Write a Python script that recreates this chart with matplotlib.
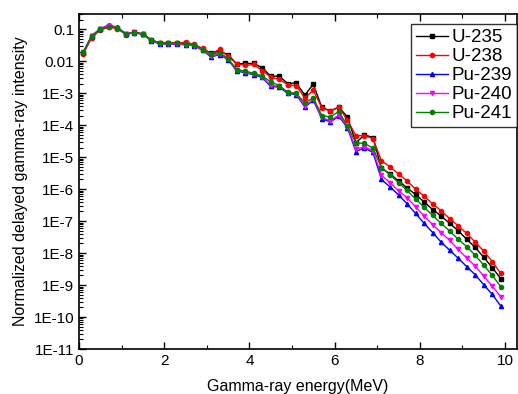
import numpy as np
import matplotlib
matplotlib.use("Agg")
import matplotlib.pyplot as plt
from matplotlib.ticker import FixedLocator, FuncFormatter, LogLocator, NullFormatter

plt.rcParams['font.family'] = ['Liberation Sans', 'DejaVu Sans']

energy = [0.1, 0.3, 0.5, 0.7, 0.9, 1.1, 1.3, 1.5, 1.7, 1.9, 2.1, 2.3, 2.5, 2.7, 2.9,
          3.1, 3.3, 3.5, 3.7, 3.9, 4.1, 4.3, 4.5, 4.7, 4.9, 5.1, 5.3, 5.5, 5.7, 5.9,
          6.1, 6.3, 6.5, 6.7, 6.9, 7.1, 7.3, 7.5, 7.7, 7.9, 8.1, 8.3, 8.5, 8.7, 8.9,
          9.1, 9.3, 9.5, 9.7, 9.9]

u235 = [0.018, 0.060, 0.10, 0.125, 0.11, 0.070, 0.080, 0.072, 0.046, 0.037, 0.037, 0.036, 0.036, 0.033, 0.024,
        0.0178, 0.0209, 0.0158, 8.3e-3, 8.5e-3, 8.5e-3, 6.3e-3, 3.4e-3, 3.4e-3, 2.0e-3, 2.1e-3, 8.7e-4, 1.9e-3, 3.6e-4, 2.8e-4,
        3.7e-4, 1.8e-4, 2.8e-5, 5.0e-5, 4.1e-5, 4.5e-6, 3.0e-6, 1.8e-6, 1.1e-6, 6.8e-7, 4.0e-7, 2.3e-7, 1.45e-7, 8.5e-8, 5.0e-8,
        2.7e-8, 1.5e-8, 7.4e-9, 3.5e-9, 1.6e-9]

u238 = [0.017, 0.055, 0.095, 0.115, 0.105, 0.068, 0.080, 0.070, 0.045, 0.038, 0.038, 0.037, 0.039, 0.034, 0.025,
        0.0174, 0.0234, 0.0141, 8.3e-3, 7.4e-3, 7.9e-3, 5.1e-3, 3.2e-3, 2.7e-3, 1.86e-3, 1.7e-3, 7.1e-4, 1.23e-3, 3.5e-4, 2.75e-4,
        3.6e-4, 1.45e-4, 4.7e-5, 4.7e-5, 3.8e-5, 7.6e-6, 5.0e-6, 3.0e-6, 1.8e-6, 1.0e-6, 6.0e-7, 3.5e-7, 2.1e-7, 1.2e-7, 7.1e-8,
        4.1e-8, 2.2e-8, 1.15e-8, 5.4e-9, 2.3e-9]

pu239 = [0.019, 0.062, 0.105, 0.135, 0.115, 0.072, 0.078, 0.070, 0.044, 0.034, 0.035, 0.034, 0.033, 0.031, 0.022,
         0.0135, 0.0162, 0.0112, 5.0e-3, 4.3e-3, 3.8e-3, 3.1e-3, 1.62e-3, 1.55e-3, 9.8e-4, 9.1e-4, 3.7e-4, 6.0e-4, 1.6e-4, 1.26e-4,
         1.9e-4, 8.3e-5, 1.5e-5, 1.95e-5, 1.4e-5, 2.0e-6, 1.17e-6, 6.6e-7, 3.5e-7, 1.74e-7, 8.5e-8, 4.4e-8, 2.2e-8, 1.23e-8, 6.9e-9,
         3.8e-9, 2.1e-9, 1.02e-9, 5.1e-10, 2.2e-10]

pu240 = [0.019, 0.062, 0.103, 0.130, 0.113, 0.071, 0.078, 0.070, 0.044, 0.035, 0.035, 0.034, 0.033, 0.031, 0.022,
         0.0145, 0.0170, 0.0118, 5.3e-3, 4.5e-3, 4.0e-3, 3.3e-3, 1.75e-3, 1.65e-3, 1.05e-3, 9.7e-4, 4.0e-4, 6.4e-4, 1.75e-4, 1.36e-4,
         2.1e-4, 8.9e-5, 1.8e-5, 2.1e-5, 1.6e-5, 2.7e-6, 1.6e-6, 8.9e-7, 5.4e-7, 2.8e-7, 1.45e-7, 7.8e-8, 4.4e-8, 2.5e-8, 1.3e-8,
         7.1e-9, 3.9e-9, 1.9e-9, 9.3e-10, 4.3e-10]

pu241 = [0.019, 0.063, 0.10, 0.12, 0.11, 0.070, 0.079, 0.071, 0.046, 0.036, 0.037, 0.036, 0.035, 0.033, 0.023,
         0.0166, 0.0186, 0.0120, 5.5e-3, 4.9e-3, 4.2e-3, 3.5e-3, 2.24e-3, 1.74e-3, 1.07e-3, 9.8e-4, 5.0e-4, 7.1e-4, 2.0e-4, 1.8e-4,
         2.7e-4, 9.3e-5, 2.8e-5, 2.7e-5, 1.9e-5, 4.7e-6, 2.8e-6, 1.6e-6, 9.1e-7, 4.9e-7, 2.7e-7, 1.5e-7, 8.5e-8, 4.9e-8, 2.7e-8,
         1.6e-8, 8.5e-9, 4.2e-9, 2.0e-9, 8.9e-10]

series = [("U-235", u235, "black", "s"),
          ("U-238", u238, "red", "o"),
          ("Pu-239", pu239, "blue", "^"),
          ("Pu-240", pu240, "magenta", "v"),
          ("Pu-241", pu241, "green", "o")]

y_ticks = [1e-1, 1e-2, 1e-3, 1e-4, 1e-5, 1e-6, 1e-7, 1e-8, 1e-9, 1e-10, 1e-11]
y_tick_labels = ["0.1", "0.01", "1E-3", "1E-4", "1E-5", "1E-6", "1E-7", "1E-8", "1E-9", "1E-10", "1E-11"]
x_ticks = [0, 2, 4, 6, 8, 10]

fig = plt.figure(figsize=(5.18, 3.94), dpi=100)
ax = fig.add_axes([0.1525, 0.1142, 0.8455, 0.8503])

for name, vals, col, mk in series:
    ax.plot(energy, vals, color=col, marker=mk, markersize=3, linewidth=1.0, label=name)

ax.set_yscale('log')
ax.set_xlim(0, 10.28)
ax.set_ylim(1e-11, 0.3)

ax.yaxis.set_major_locator(FixedLocator(y_ticks))
ax.yaxis.set_major_formatter(FuncFormatter(lambda v, p: dict(zip(y_ticks, y_tick_labels)).get(v, "")))
ax.yaxis.set_minor_locator(LogLocator(base=10, subs=np.arange(2, 10), numticks=50))
ax.yaxis.set_minor_formatter(NullFormatter())

ax.xaxis.set_major_locator(FixedLocator(x_ticks))
ax.xaxis.set_minor_locator(FixedLocator([1, 3, 5, 7, 9]))

ax.tick_params(axis='both', which='both', direction='in', top=True, right=False, labelsize=11)
ax.tick_params(axis='both', which='major', length=5, width=1)
ax.tick_params(axis='both', which='minor', length=3, width=0.8)
for s in ax.spines.values():
    s.set_linewidth(1.2)

ax.set_xlabel("Gamma-ray energy(MeV)", fontsize=11.5, labelpad=8)
ax.set_ylabel("Normalized delayed gamma-ray intensity", fontsize=11.5, labelpad=4)

leg = ax.legend(loc='upper right', bbox_to_anchor=(1.0, 0.969), fontsize=13.5, frameon=True, fancybox=False,
                edgecolor='black', handlelength=1.7, handletextpad=0.2,
                borderpad=0.25, labelspacing=0.1, borderaxespad=0.0)
leg.get_frame().set_linewidth(1.0)

fig.savefig("out.png", dpi=100)
